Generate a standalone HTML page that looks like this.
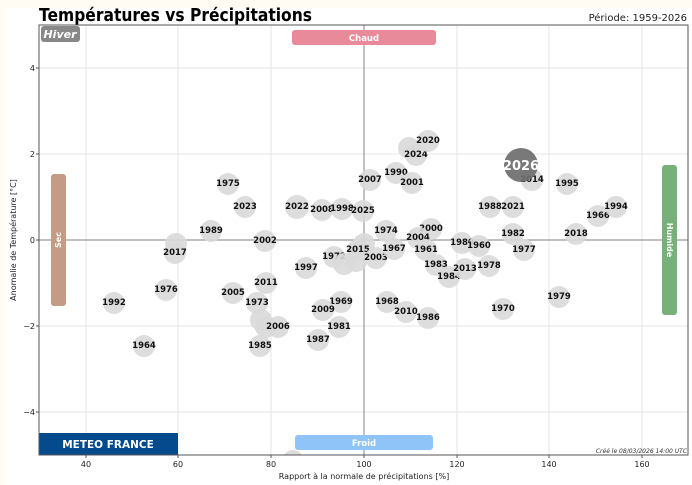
<!DOCTYPE html>
<html><head><meta charset="utf-8"><style>
html,body{margin:0;padding:0;background:#fff;}
svg{display:block;font-family:"DejaVu Sans","Liberation Sans",sans-serif;}
.b circle{fill:#d9d9d9;opacity:.9}
.b text{font-size:8.5px;font-weight:bold;fill:#111;text-anchor:middle;dominant-baseline:central}
</style></head><body>
<svg width="692" height="485" viewBox="0 0 692 485" xmlns="http://www.w3.org/2000/svg">
<defs><clipPath id="pc"><rect x="39" y="25" width="649" height="430"/></clipPath></defs>
<rect x="0" y="0" width="692" height="485" fill="#fffdf3"/>
<rect x="5" y="0" width="687" height="485" fill="#ffffff"/>
<rect x="5" y="0" width="687" height="8" fill="#fffdf3"/>
<text x="39" y="21" font-size="17.5" font-weight="bold" fill="#000" textLength="273" lengthAdjust="spacingAndGlyphs">Températures vs Précipitations</text>
<text x="687" y="21" font-size="10" fill="#222" text-anchor="end">Période: 1959-2026</text>
<g stroke="#e6e6e6" stroke-width="1">
<line x1="86" y1="25" x2="86" y2="455"/><line x1="178" y1="25" x2="178" y2="455"/><line x1="271" y1="25" x2="271" y2="455"/>
<line x1="457" y1="25" x2="457" y2="455"/><line x1="549" y1="25" x2="549" y2="455"/><line x1="642" y1="25" x2="642" y2="455"/>
<line x1="39" y1="68" x2="688" y2="68"/><line x1="39" y1="154" x2="688" y2="154"/><line x1="39" y1="326" x2="688" y2="326"/><line x1="39" y1="412" x2="688" y2="412"/>
</g>
<line x1="364" y1="25" x2="364" y2="455" stroke="#9a9a9a" stroke-width="1.2"/>
<line x1="39" y1="240" x2="688" y2="240" stroke="#9a9a9a" stroke-width="1.2"/>
<rect x="41" y="26" width="39" height="16" rx="3" fill="#888"/>
<text x="60" y="38" font-size="11" font-weight="bold" font-style="italic" fill="#fff" text-anchor="middle">Hiver</text>
<rect x="292" y="30" width="144" height="15" rx="3" fill="#e98a9b"/>
<text x="364" y="41" font-size="8.5" font-weight="bold" fill="#fff" text-anchor="middle">Chaud</text>
<rect x="295" y="435" width="138" height="15" rx="3" fill="#8fc4f8"/>
<text x="364" y="446" font-size="8.5" font-weight="bold" fill="#fff" text-anchor="middle">Froid</text>
<rect x="51" y="174" width="15" height="132" rx="3" fill="#c49c85"/>
<text transform="translate(61,240) rotate(-90)" font-size="8" font-weight="bold" fill="#fff" text-anchor="middle">Sec</text>
<rect x="662" y="165" width="15" height="150" rx="3" fill="#78b07a"/>
<text transform="translate(667,240) rotate(90)" font-size="8" font-weight="bold" fill="#fff" text-anchor="middle">Humide</text>
<g class="b" clip-path="url(#pc)">
<circle cx="293" cy="461" r="11"/>
<circle cx="228" cy="184" r="11"/><text x="228" y="184">1975</text>
<circle cx="245" cy="207" r="11"/><text x="245" y="207">2023</text>
<circle cx="211" cy="231" r="11"/><text x="211" y="231">1989</text>
<circle cx="176" cy="244" r="11"/>
<circle cx="175" cy="253" r="11"/><text x="175" y="253">2017</text>
<circle cx="265" cy="241" r="11"/><text x="265" y="241">2002</text>
<circle cx="166" cy="290" r="11"/><text x="166" y="290">1976</text>
<circle cx="114" cy="303" r="11"/><text x="114" y="303">1992</text>
<circle cx="144" cy="346" r="11"/><text x="144" y="346">1964</text>
<circle cx="233" cy="293" r="11"/><text x="233" y="293">2005</text>
<circle cx="266" cy="283" r="11"/><text x="266" y="283">2011</text>
<circle cx="257" cy="303" r="11"/><text x="257" y="303">1973</text>
<circle cx="261" cy="320" r="11"/><circle cx="266" cy="327" r="11"/>
<circle cx="278" cy="327" r="11"/><text x="278" y="327">2006</text>
<circle cx="260" cy="346" r="11"/><text x="260" y="346">1985</text>
<circle cx="297" cy="207" r="12"/><text x="297" y="207">2022</text>
<circle cx="322" cy="210" r="11"/><text x="322" y="210">2008</text>
<circle cx="342" cy="209" r="11"/><text x="342" y="209">1998</text>
<circle cx="363" cy="211" r="11"/><text x="363" y="211">2025</text>
<circle cx="370" cy="180" r="11"/><text x="370" y="180">2007</text>
<circle cx="396" cy="173" r="11"/><text x="396" y="173">1990</text>
<circle cx="412" cy="183" r="11"/><text x="412" y="183">2001</text>
<circle cx="409" cy="148" r="11"/>
<circle cx="416" cy="155" r="11"/><text x="416" y="155">2024</text>
<circle cx="428" cy="141" r="11"/><text x="428" y="141">2020</text>
<circle cx="306" cy="268" r="11"/><text x="306" y="268">1997</text>
<circle cx="334" cy="257" r="11"/><text x="334" y="257">1972</text>
<circle cx="344" cy="264" r="11"/><circle cx="356" cy="261" r="11"/>
<circle cx="364" cy="244" r="11"/>
<circle cx="358" cy="250" r="11"/><text x="358" y="250">2015</text>
<circle cx="376" cy="258" r="11"/><text x="376" y="258">2003</text>
<circle cx="386" cy="231" r="11"/><text x="386" y="231">1974</text>
<circle cx="394" cy="249" r="11"/><text x="394" y="249">1967</text>
<circle cx="431" cy="229" r="11"/><text x="431" y="229">2000</text>
<circle cx="418" cy="238" r="11"/><text x="418" y="238">2004</text>
<circle cx="426" cy="250" r="11"/><text x="426" y="250">1961</text>
<circle cx="436" cy="265" r="11"/><text x="436" y="265">1983</text>
<circle cx="449" cy="277" r="11"/><text x="449" y="277">1984</text>
<circle cx="462" cy="243" r="11"/><text x="462" y="243">1980</text>
<circle cx="465" cy="269" r="11"/><text x="465" y="269">2013</text>
<circle cx="479" cy="246" r="11"/><text x="479" y="246">1960</text>
<circle cx="489" cy="266" r="11"/><text x="489" y="266">1978</text>
<circle cx="490" cy="207" r="11"/><text x="490" y="207">1988</text>
<circle cx="513" cy="207" r="11"/><text x="513" y="207">2021</text>
<circle cx="513" cy="234" r="11"/><text x="513" y="234">1982</text>
<circle cx="524" cy="250" r="11"/><text x="524" y="250">1977</text>
<circle cx="532" cy="180" r="11"/><text x="532" y="180">2014</text>
<circle cx="567" cy="184" r="11"/><text x="567" y="184">1995</text>
<circle cx="598" cy="216" r="11"/><text x="598" y="216">1966</text>
<circle cx="616" cy="207" r="11"/><text x="616" y="207">1994</text>
<circle cx="576" cy="234" r="11"/><text x="576" y="234">2018</text>
<circle cx="559" cy="297" r="11"/><text x="559" y="297">1979</text>
<circle cx="503" cy="309" r="11"/><text x="503" y="309">1970</text>
<circle cx="387" cy="302" r="11"/><text x="387" y="302">1968</text>
<circle cx="406" cy="312" r="11"/><text x="406" y="312">2010</text>
<circle cx="428" cy="318" r="11"/><text x="428" y="318">1986</text>
<circle cx="341" cy="302" r="11"/><text x="341" y="302">1969</text>
<circle cx="323" cy="310" r="11"/><text x="323" y="310">2009</text>
<circle cx="339" cy="327" r="11"/><text x="339" y="327">1981</text>
<circle cx="318" cy="340" r="11"/><text x="318" y="340">1987</text>
</g>
<circle cx="521" cy="165" r="17" fill="#6e6e6e" opacity=".92"/>
<text x="521" y="170" font-size="13" font-weight="bold" fill="#fff" text-anchor="middle">2026</text>
<rect x="39" y="433" width="139" height="22" fill="#044a8c"/>
<text x="108" y="448" font-size="10.5" font-weight="bold" fill="#fff" text-anchor="middle">METEO FRANCE</text>
<text x="687" y="453" font-size="6" font-style="italic" fill="#333" text-anchor="end">Créé le 08/03/2026 14:00 UTC</text>
<rect x="39" y="25" width="649" height="430" fill="none" stroke="#555" stroke-width="1"/>
<g font-size="8" fill="#222" text-anchor="middle">
<text x="86" y="467">40</text><text x="178" y="467">60</text><text x="271" y="467">80</text><text x="364" y="467">100</text><text x="457" y="467">120</text><text x="549" y="467">140</text><text x="642" y="467">160</text>
<text x="364" y="479">Rapport à la normale de précipitations [%]</text>
</g>
<g font-size="8" fill="#222" text-anchor="end">
<text x="35" y="71">4</text><text x="35" y="157">2</text><text x="35" y="243">0</text><text x="35" y="329">−2</text><text x="35" y="415">−4</text>
</g>
<g stroke="#555"><line x1="36" y1="68" x2="39" y2="68"/><line x1="36" y1="154" x2="39" y2="154"/><line x1="36" y1="240" x2="39" y2="240"/><line x1="36" y1="326" x2="39" y2="326"/><line x1="36" y1="412" x2="39" y2="412"/>
<line x1="86" y1="455" x2="86" y2="458"/><line x1="178" y1="455" x2="178" y2="458"/><line x1="271" y1="455" x2="271" y2="458"/><line x1="364" y1="455" x2="364" y2="458"/><line x1="457" y1="455" x2="457" y2="458"/><line x1="549" y1="455" x2="549" y2="458"/><line x1="642" y1="455" x2="642" y2="458"/></g>
<text transform="translate(16,240) rotate(-90)" font-size="8" fill="#222" text-anchor="middle">Anomalie de Température [°C]</text>
</svg>
</body></html>
